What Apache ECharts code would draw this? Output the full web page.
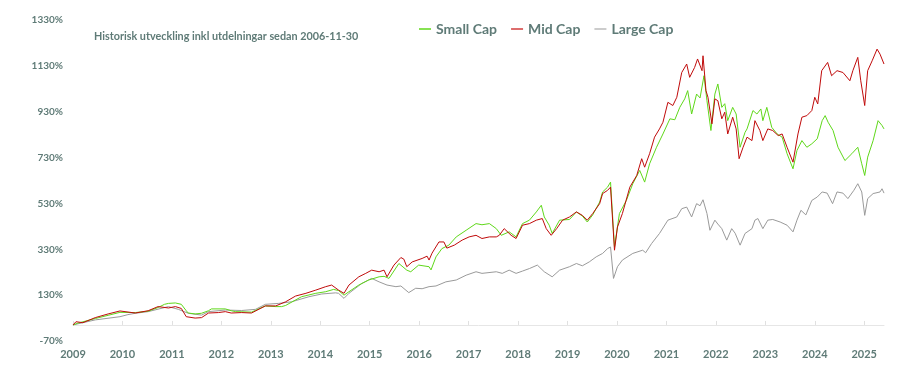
<!DOCTYPE html>
<html>
<head>
<meta charset="utf-8">
<script src="https://cdn.jsdelivr.net/npm/echarts@6/dist/echarts.min.js"></script>
<style>
  html, body { margin: 0; padding: 0; background: #ffffff; }
  #chart { width: 906px; height: 366px; }
</style>
</head>
<body>
<div id="chart"></div>
<script>
const titleText = 'Historisk utveckling inkl utdelningar sedan 2006-11-30';
const seriesNames = ['Small Cap', 'Mid Cap', 'Large Cap'];
const yearTicks = [2009,2010,2011,2012,2013,2014,2015,2016,2017,2018,2019,2020,2021,2022,2023,2024,2025];
const yTicks = [-70,130,330,530,730,930,1130,1330];

const smallCap = [
  [2009.00,0],[2009.10,8],[2009.45,28],[2009.71,42],[2009.95,55],[2010.26,54],[2010.52,60],[2010.72,76],
  [2010.85,90],[2010.93,94],[2011.07,96],[2011.19,90],[2011.29,62],[2011.33,52],[2011.47,48],[2011.60,51],
  [2011.74,62],[2011.80,70],[2012.08,70],[2012.20,62],[2012.29,58],[2012.61,56],[2012.89,83],[2013.10,80],
  [2013.22,80],[2013.30,85],[2013.62,123],[2013.91,138],[2014.11,145],[2014.27,155],[2014.37,150],[2014.48,130],
  [2014.58,145],[2014.78,174],[2014.98,196],[2015.19,210],[2015.29,212],[2015.39,203],[2015.59,268],[2015.75,239],
  [2015.83,232],[2015.99,261],[2016.20,254],[2016.24,240],[2016.34,297],[2016.46,333],[2016.60,348],[2016.75,384],
  [2016.95,413],[2017.15,442],[2017.27,437],[2017.42,442],[2017.56,420],[2017.66,391],[2017.82,406],[2017.96,384],
  [2018.09,442],[2018.23,457],[2018.37,493],[2018.47,522],[2018.53,471],[2018.63,435],[2018.69,399],[2018.84,457],
  [2019.04,460],[2019.18,493],[2019.30,475],[2019.40,449],[2019.51,480],[2019.65,536],[2019.71,580],[2019.81,601],
  [2019.87,623],[2019.95,340],[2020.05,486],[2020.19,543],[2020.32,616],[2020.46,674],[2020.56,623],[2020.66,703],
  [2020.80,775],[2020.93,833],[2021.07,899],[2021.17,895],[2021.27,949],[2021.37,986],[2021.43,1022],[2021.51,920],
  [2021.61,1007],[2021.68,990],[2021.76,1087],[2021.82,978],[2021.90,848],[2021.98,1007],[2022.04,1051],[2022.12,949],
  [2022.18,965],[2022.24,891],[2022.34,949],[2022.41,920],[2022.49,775],[2022.59,840],[2022.63,855],[2022.75,935],
  [2022.83,920],[2022.91,942],[2022.95,891],[2023.03,949],[2023.13,862],[2023.24,833],[2023.34,819],[2023.44,747],
  [2023.56,681],[2023.64,761],[2023.74,804],[2023.84,775],[2023.94,790],[2024.05,812],[2024.15,891],[2024.21,913],
  [2024.27,884],[2024.37,848],[2024.47,775],[2024.61,717],[2024.75,747],[2024.87,775],[2024.95,703],[2025.01,652],
  [2025.07,732],[2025.18,804],[2025.28,891],[2025.36,870],[2025.40,855]
];

const midCap = [
  [2009.00,0],[2009.06,14],[2009.20,10],[2009.45,32],[2009.71,48],[2009.95,61],[2010.26,52],[2010.52,62],
  [2010.72,80],[2010.93,74],[2011.07,80],[2011.19,72],[2011.29,36],[2011.47,30],[2011.60,32],[2011.74,52],
  [2011.94,54],[2012.08,58],[2012.20,52],[2012.41,54],[2012.61,52],[2012.89,83],[2013.10,83],[2013.30,101],
  [2013.50,126],[2013.71,138],[2013.91,152],[2014.11,167],[2014.23,174],[2014.37,152],[2014.48,138],[2014.58,174],
  [2014.78,210],[2014.92,225],[2015.04,239],[2015.19,232],[2015.29,239],[2015.35,210],[2015.49,261],[2015.63,294],
  [2015.69,287],[2015.75,254],[2015.86,275],[2016.06,290],[2016.16,300],[2016.20,283],[2016.26,313],[2016.40,362],
  [2016.50,362],[2016.56,335],[2016.71,348],[2016.87,370],[2017.01,384],[2017.15,391],[2017.27,377],[2017.42,384],
  [2017.56,384],[2017.62,391],[2017.72,420],[2017.86,391],[2017.96,377],[2018.09,435],[2018.23,442],[2018.37,457],
  [2018.49,464],[2018.57,420],[2018.67,391],[2018.78,420],[2018.90,457],[2019.04,471],[2019.18,493],[2019.30,478],
  [2019.40,457],[2019.51,486],[2019.65,529],[2019.71,573],[2019.81,587],[2019.87,601],[2019.95,326],[2020.01,427],
  [2020.11,486],[2020.26,601],[2020.40,652],[2020.50,725],[2020.56,688],[2020.66,747],[2020.76,819],[2020.86,855],
  [2020.93,884],[2021.03,971],[2021.13,957],[2021.21,993],[2021.31,1101],[2021.41,1138],[2021.47,1080],[2021.57,1123],
  [2021.63,1160],[2021.72,1109],[2021.74,1174],[2021.80,1022],[2021.84,993],[2021.92,877],[2021.98,986],[2022.04,978],
  [2022.12,899],[2022.18,928],[2022.24,833],[2022.34,906],[2022.41,855],[2022.47,725],[2022.55,775],[2022.63,819],
  [2022.73,804],[2022.79,891],[2022.89,848],[2022.95,804],[2023.05,855],[2023.15,848],[2023.26,826],[2023.34,833],
  [2023.44,775],[2023.56,710],[2023.66,833],[2023.74,906],[2023.84,913],[2023.94,935],[2024.00,993],[2024.06,964],
  [2024.14,1109],[2024.26,1145],[2024.34,1087],[2024.45,1109],[2024.57,1101],[2024.71,1065],[2024.77,1109],[2024.87,1167],
  [2024.93,1065],[2025.01,957],[2025.07,1109],[2025.16,1152],[2025.26,1203],[2025.32,1181],[2025.36,1188],[2025.40,1138]
];

const largeCap = [
  [2009.00,0],[2009.45,22],[2009.95,36],[2010.11,45],[2010.26,51],[2010.52,58],[2010.78,72],[2010.93,80],
  [2011.13,68],[2011.33,51],[2011.60,43],[2011.74,58],[2012.08,65],[2012.41,63],[2012.69,68],[2012.89,90],
  [2013.16,94],[2013.42,101],[2013.77,123],[2014.03,135],[2014.31,140],[2014.37,138],[2014.48,116],[2014.58,138],
  [2014.84,181],[2015.04,203],[2015.19,188],[2015.35,174],[2015.53,167],[2015.63,170],[2015.79,141],[2015.93,160],
  [2016.06,158],[2016.20,167],[2016.34,170],[2016.54,188],[2016.75,196],[2016.95,217],[2017.15,232],[2017.27,225],
  [2017.56,232],[2017.68,225],[2017.82,239],[2017.96,225],[2018.09,235],[2018.23,246],[2018.39,261],[2018.53,232],
  [2018.69,210],[2018.84,239],[2019.04,254],[2019.18,268],[2019.30,258],[2019.44,275],[2019.58,297],[2019.71,312],
  [2019.81,333],[2019.87,340],[2019.93,203],[2020.01,254],[2020.11,283],[2020.32,312],[2020.52,326],[2020.58,315],
  [2020.70,355],[2020.86,399],[2021.03,457],[2021.21,471],[2021.31,507],[2021.41,514],[2021.51,471],[2021.61,529],
  [2021.68,520],[2021.74,546],[2021.82,486],[2021.88,413],[2021.98,457],[2022.04,440],[2022.12,420],[2022.22,370],
  [2022.32,420],[2022.39,400],[2022.49,348],[2022.59,399],[2022.73,420],[2022.79,457],[2022.85,464],[2022.95,420],
  [2023.05,457],[2023.15,460],[2023.30,449],[2023.44,435],[2023.56,406],[2023.64,457],[2023.72,500],[2023.82,480],
  [2023.94,543],[2024.05,558],[2024.15,580],[2024.25,575],[2024.36,529],[2024.45,580],[2024.57,575],[2024.67,551],
  [2024.79,587],[2024.87,616],[2024.95,580],[2025.01,478],[2025.07,551],[2025.18,573],[2025.32,580],[2025.36,594],
  [2025.40,575]
];

const textColor = '#5f7b77';
const font = 'Lato';

const chart = echarts.init(document.getElementById('chart'), null, { renderer: 'canvas' });
chart.setOption({
  animation: false,
  backgroundColor: '#ffffff',
  title: {
    text: titleText,
    left: 94,
    top: 31,
    padding: 0,
    textStyle: { fontFamily: font, fontSize: 10.8, fontWeight: 'bold', color: textColor }
  },
  legend: {
    left: 419,
    top: 22,
    padding: 0,
    icon: 'rect',
    itemWidth: 12,
    itemHeight: 1.5,
    itemGap: 14,
    data: seriesNames,
    textStyle: { fontFamily: font, fontSize: 14, fontWeight: 'bold', color: textColor }
  },
  grid: { left: 73, right: 22, top: 20, bottom: 25, containLabel: false, outerBoundsMode: 'none' },
  xAxis: {
    type: 'value',
    min: 2009,
    max: 2025.4,
    axisLine: { onZero: true, lineStyle: { color: '#e6e6e6', width: 1 } },
    axisTick: { show: true, inside: true, length: 4, customValues: yearTicks, lineStyle: { color: '#e0e0e0' } },
    axisLabel: {
      customValues: yearTicks,
      margin: 8,
      fontFamily: font,
      fontSize: 11,
      fontWeight: 'bold',
      color: textColor,
      formatter: v => String(v)
    },
    splitLine: { show: false }
  },
  yAxis: {
    type: 'value',
    min: -70,
    max: 1330,
    axisLine: { show: false },
    axisTick: { show: false },
    splitLine: { show: false },
    axisLabel: {
      customValues: yTicks,
      margin: 10,
      fontFamily: font,
      fontSize: 10,
      fontWeight: 'bold',
      color: textColor,
      formatter: v => v + '%'
    }
  },
  series: [
    { name: seriesNames[0], type: 'line', data: smallCap, showSymbol: false, symbol: 'none',
      lineStyle: { color: '#5fd81a', width: 1 }, itemStyle: { color: '#5fd81a' }, z: 3 },
    { name: seriesNames[1], type: 'line', data: midCap, showSymbol: false, symbol: 'none',
      lineStyle: { color: '#c00a0a', width: 1 }, itemStyle: { color: '#d23c3c' }, z: 4 },
    { name: seriesNames[2], type: 'line', data: largeCap, showSymbol: false, symbol: 'none',
      lineStyle: { color: '#9a9a9a', width: 1 }, itemStyle: { color: '#bbbbbb' }, z: 2 }
  ]
});
</script>
</body>
</html>
